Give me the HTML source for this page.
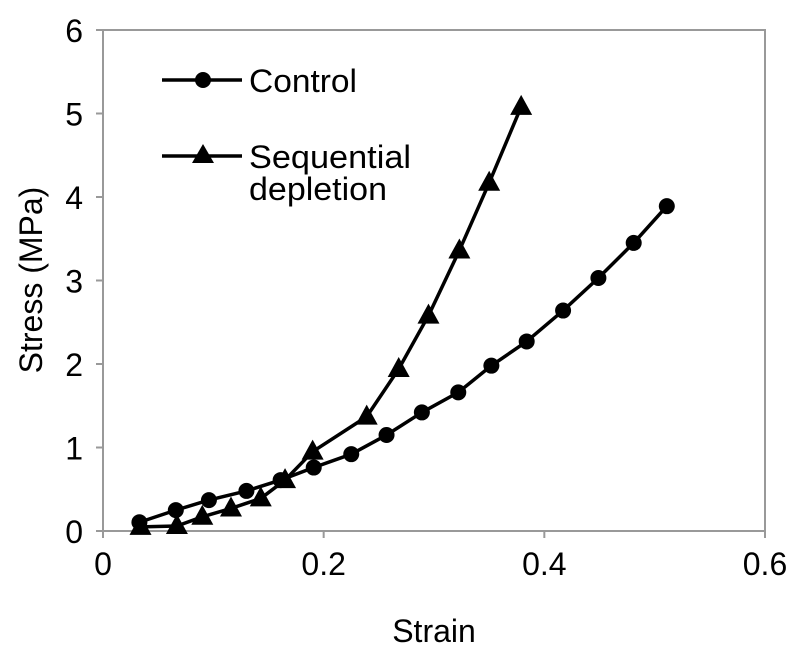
<!DOCTYPE html>
<html><head><meta charset="utf-8"><style>
html,body{margin:0;padding:0;background:#fff;}
svg text{font-family:"Liberation Sans",sans-serif;fill:#000;}
</style></head><body>
<svg id="chart" width="800" height="658" viewBox="0 0 800 658" xmlns="http://www.w3.org/2000/svg">
<rect x="103" y="30" width="662" height="501" fill="#fff" stroke="#999" stroke-width="2"/>
<g id="axes"></g>
<g id="series"></g>
<g>
  <g>
    <line x1="162" y1="80" x2="242" y2="80" stroke="#000" stroke-width="3.5"/>
    <circle cx="203" cy="80" r="8" fill="#000"/>
    <text x="249" y="92" font-size="32" textLength="108" lengthAdjust="spacingAndGlyphs">Control</text>
  </g>
  <g>
    <line x1="162" y1="156" x2="242" y2="156" stroke="#000" stroke-width="3.5"/>
    <polygon points="203,144 214,163 192,163" fill="#000"/>
    <text x="249" y="168" font-size="32" textLength="162" lengthAdjust="spacingAndGlyphs">Sequential</text>
    <text x="249" y="200" font-size="32" textLength="138" lengthAdjust="spacingAndGlyphs">depletion</text>
  </g>
</g>
<text x="434" y="642" font-size="32" text-anchor="middle">Strain</text>
<text x="42" y="280" font-size="32" text-anchor="middle" transform="rotate(-90 42 280)">Stress (MPa)</text>
</svg>
<script>
const xTicks = [0, 0.2, 0.4, 0.6];
const xTickLabels = ["0", "0.2", "0.4", "0.6"];
const yTicks = [0, 1, 2, 3, 4, 5, 6];
const yTickLabels = ["0", "1", "2", "3", "4", "5", "6"];
const controlStrain = [0.033,0.066,0.096,0.13,0.161,0.191,0.225,0.257,0.289,0.322,0.352,0.384,0.417,0.449,0.481,0.511];
const controlStress = [0.105,0.25,0.37,0.48,0.61,0.76,0.92,1.15,1.42,1.66,1.98,2.27,2.64,3.03,3.45,3.89];
const seqStrain = [0.034,0.067,0.09,0.116,0.143,0.165,0.19,0.239,0.268,0.295,0.323,0.35,0.379];
const seqStress = [0.05,0.06,0.17,0.27,0.39,0.61,0.95,1.37,1.94,2.58,3.36,4.17,5.08];

const NS = "http://www.w3.org/2000/svg";
const L = 103, R = 765, T = 30, B = 531;
function xs(v){ return L + (v - 0) / 0.6 * (R - L); }
function ys(v){ return B - (v - 0) / 6 * (B - T); }
function mk(tag, attrs, parent){ const e = document.createElementNS(NS, tag); for (const k in attrs) e.setAttribute(k, attrs[k]); parent.appendChild(e); return e; }

const axes = document.getElementById('axes');
xTicks.forEach((t, i) => {
  const tk = mk('line', {x1: xs(t), x2: xs(t), y1: B, y2: B + 7, stroke: '#999', 'stroke-width': 2}, axes);
  
  
  const lb = mk('text', {x: xs(t), y: B + 44, 'font-size': 32, 'text-anchor': 'middle'}, axes);
  lb.textContent = xTickLabels[i];
  
  
});
yTicks.forEach((t, i) => {
  const tk = mk('line', {x1: L - 7, x2: L, y1: ys(t), y2: ys(t), stroke: '#999', 'stroke-width': 2}, axes);
  
  
  const lb = mk('text', {x: L - 20, y: ys(t) + 12, 'font-size': 32, 'text-anchor': 'end'}, axes);
  lb.textContent = yTickLabels[i];
  
  
});

const series = document.getElementById('series');
function drawSeries(xv, yv, shape, name){
  const g = mk('g', {}, series);
  
  
  const pts = xv.map((x, i) => xs(x) + ',' + ys(yv[i])).join(' ');
  const pl = mk('polyline', {points: pts, fill: 'none', stroke: '#000', 'stroke-width': 3.5, 'stroke-linejoin': 'round'}, g);
  
  
  xv.forEach((x, i) => {
    const cx = xs(x), cy = ys(yv[i]);
    let m;
    if (shape === 'circle') m = mk('circle', {cx: cx, cy: cy, r: 8, fill: '#000'}, g);
    else m = mk('polygon', {points: `${cx},${cy-12} ${cx+11},${cy+8} ${cx-11},${cy+8}`, fill: '#000'}, g);
    
    
  });
}
drawSeries(controlStrain, controlStress, 'circle', 'control');
drawSeries(seqStrain, seqStress, 'triangle', 'sequential-depletion');
</script>
</body></html>
